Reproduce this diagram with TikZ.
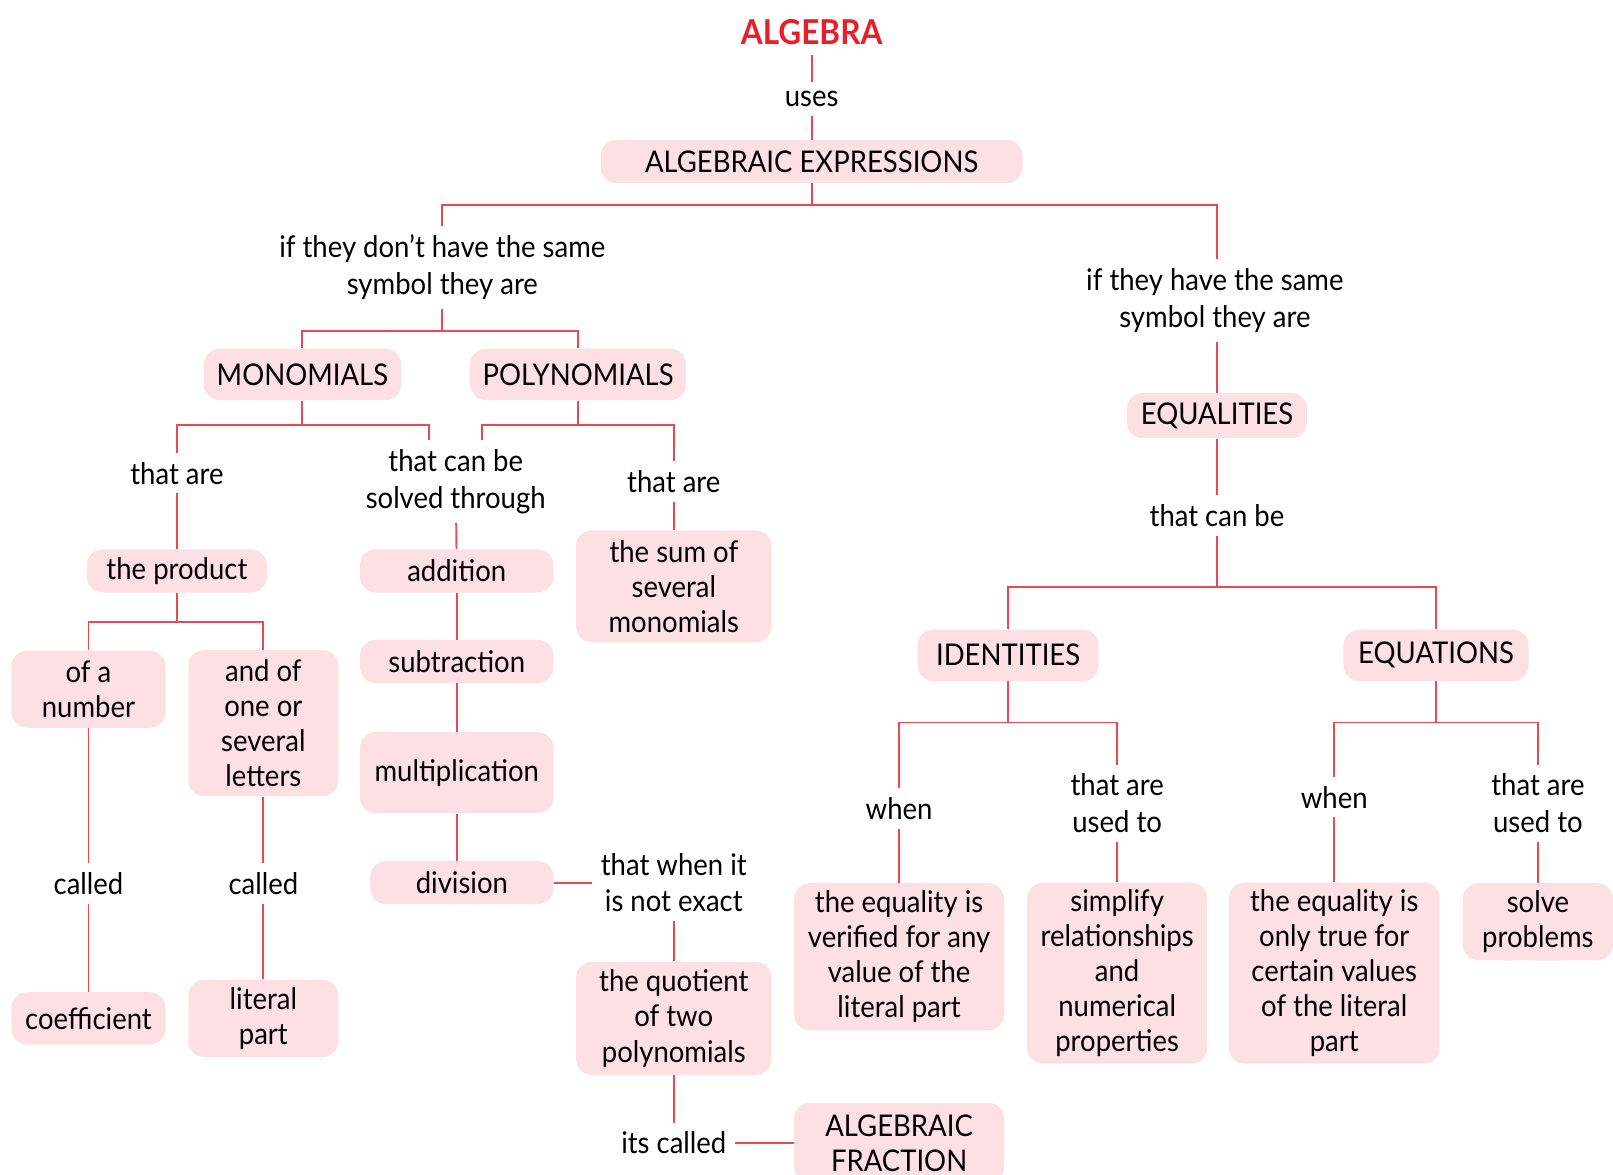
\documentclass[tikz,border=0pt]{standalone}
\usepackage{fontspec}
\setmainfont{Lato}[FakeStretch=0.92]
\usepackage{tikz}
\usetikzlibrary{positioning,calc}
\definecolor{mapred}{RGB}{232,30,40}
\definecolor{linkred}{RGB}{236,72,82}
\definecolor{boxpink}{RGB}{252,224,228}
\newcommand{\pxu}{0.02057cm}

\begin{document}
\begin{tikzpicture}[
    x=0.02057cm, y=-0.02057cm,
    font=\fontsize{17}{21}\selectfont,
    title/.style={font=\fontsize{19.5}{22}\selectfont\bfseries, text=mapred, inner sep=6pt},
    phrase/.style={align=center, inner sep=5pt},
    box/.style 2 args={rectangle, fill=boxpink, rounded corners=9pt, align=center, inner sep=2pt, font=\fontsize{17}{20}\selectfont, minimum width=#1*\pxu, minimum height=#2*\pxu},
    link/.style={draw=linkred, line width=1.1pt}
]
\useasboundingbox (0,0) rectangle (1568,1142);

% Top
\node[title] (alg) at (789,31) {ALGEBRA};
\node[phrase] (uses) at (789,96) {uses};
\node[box={410}{42}] (expr) at (789,157) {ALGEBRAIC EXPRESSIONS};
\node[phrase] (ifnot) at (430,260) {if they don't have the same\\symbol they are};
\node[phrase] (ifsame) at (1181,292) {if they have the same\\symbol they are};

% Monomials and polynomials
\node[box={192}{50}] (mono) at (294,364) {MONOMIALS};
\node[box={210}{50}] (poly) at (562,364) {POLYNOMIALS};
\node[phrase] (monoare) at (172,460) {that are};
\node[phrase] (solved) at (443,468) {that can be\\solved through};
\node[phrase] (polyare) at (655,468) {that are};
\node[box={175}{42}] (product) at (172,555) {the product};
\node[box={150}{75}] (ofnum) at (86,670) {of a\\number};
\node[box={146}{142}] (letters) at (256,703) {and of\\one or\\several\\letters};
\node[phrase] (calledA) at (86,859) {called};
\node[phrase] (calledB) at (256,859) {called};
\node[box={150}{51}] (coeff) at (86,990) {coefficient};
\node[box={146}{75}] (literal) at (256,990) {literal\\part};
\node[box={188}{42}] (addit) at (444,555) {addition};
\node[box={188}{42}] (subtr) at (444,643) {subtraction};
\node[box={188}{79}] (multi) at (444,751) {multiplication};
\node[box={178}{42}] (divis) at (449,858) {division};
\node[box={190}{109}] (sumof) at (655,570) {the sum of\\several\\monomials};
\node[phrase] (notexact) at (655,858) {that when it\\is not exact};
\node[box={190}{110}] (quot) at (655,990) {the quotient\\of two\\polynomials};
\node[phrase] (itscalled) at (655,1111) {its called};
\node[box={204}{78}] (fraction) at (874,1111) {ALGEBRAIC\\FRACTION};

% Equalities
\node[box={175}{44}] (equal) at (1183,404) {EQUALITIES};
\node[phrase] (canbe) at (1183,501) {that can be};
\node[box={176}{50}] (ident) at (980,637) {IDENTITIES};
\node[box={180}{50}] (equat) at (1396,637) {EQUATIONS};
\node[phrase] (whenA) at (874,786) {when};
\node[phrase] (usedA) at (1086,781) {that are\\used to};
\node[phrase] (whenB) at (1297,775) {when};
\node[phrase] (usedB) at (1495,781) {that are\\used to};
\node[box={204}{143}] (verif) at (874,930) {the equality is\\verified for any\\value of the\\literal part};
\node[box={175}{176}] (simpl) at (1086,946) {simplify\\relationships\\and\\numerical\\properties};
\node[box={205}{176}] (onlytrue) at (1297,946) {the equality is\\only true for\\certain values\\of the literal\\part};
\node[box={146}{75}] (solve) at (1495,896) {solve\\problems};

% Links
\draw[link] (alg) -- (uses);
\draw[link] (uses) -- (expr);
\draw[link] (expr.south) -- ++(0,21) -| (ifnot.north);
\draw[link] (expr.south) -- ++(0,21) -| (ifsame.north -| equal.north);
\draw[link] (ifsame.south -| equal.north) -- (equal);
\draw[link] (ifnot.south) -- ++(0,21) -| (mono.north);
\draw[link] (ifnot.south) -- ++(0,21) -| (poly.north);
\draw[link] (mono.south) -- ++(0,24) -| ($(solved.north)+(-26,0)$);
\draw[link] (mono.south) -- ++(0,24) -| (monoare.north);
\draw[link] (poly.south) -- ++(0,24) -| ($(solved.north)+(26,0)$);
\draw[link] (poly.south) -- ++(0,24) -| (polyare.north);
\draw[link] (monoare) -- (product);
\draw[link] (product.south) -- ++(0,28) -| (ofnum.north);
\draw[link] (product.south) -- ++(0,28) -| (letters.north);
\draw[link] (ofnum) -- (calledA);
\draw[link] (calledA) -- (coeff);
\draw[link] (letters) -- (calledB);
\draw[link] (calledB) -- (literal);
\draw[link] (solved) -- (addit);
\draw[link] (addit) -- (subtr);
\draw[link] (subtr) -- (multi);
\draw[link] (multi) -- (multi |- divis.north);
\draw[link] (divis) -- (notexact);
\draw[link] (notexact) -- (quot);
\draw[link] (quot) -- (itscalled);
\draw[link] (itscalled) -- (fraction);
\draw[link] (polyare) -- (sumof);
\draw[link] (equal) -- (canbe);
\draw[link] (canbe.south) -- ++(0,50) -| (ident.north);
\draw[link] (canbe.south) -- ++(0,50) -| (equat.north);
\draw[link] (ident.south) -- ++(0,40) -| (whenA.north);
\draw[link] (ident.south) -- ++(0,40) -| (usedA.north);
\draw[link] (equat.south) -- ++(0,40) -| (whenB.north);
\draw[link] (equat.south) -- ++(0,40) -| (usedB.north);
\draw[link] (whenA) -- (verif);
\draw[link] (usedA) -- (simpl);
\draw[link] (whenB) -- (onlytrue);
\draw[link] (usedB) -- (solve);

\end{tikzpicture}
\end{document}
